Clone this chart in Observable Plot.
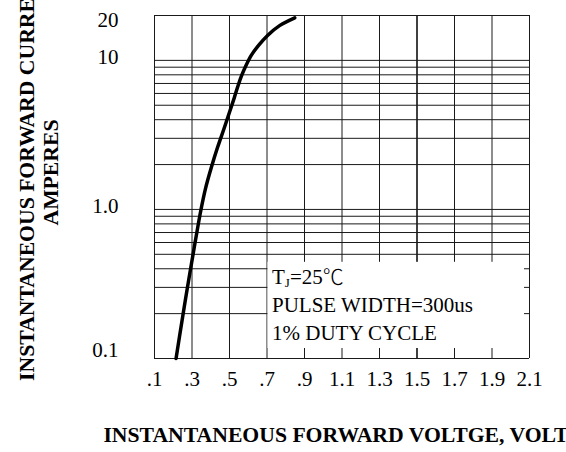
<!DOCTYPE html>
<html>
<head>
<meta charset="utf-8">
<script src="https://cdn.jsdelivr.net/npm/d3@7"></script>
<script src="https://cdn.jsdelivr.net/npm/@observablehq/plot@0.6"></script>
<style>
  html, body { margin: 0; padding: 0; background: #fff; overflow: hidden; }
  svg { display: block; }
</style>
</head>
<body>
<div id="chart"></div>
<script>
// Curve: instantaneous forward voltage (V) vs instantaneous forward current (A)
const voltage = [0.215, 0.247, 0.273, 0.300, 0.323, 0.347, 0.372, 0.403, 0.436, 0.471, 0.503, 0.526, 0.546, 0.565, 0.588, 0.616, 0.655, 0.703, 0.767, 0.848];
const current = [0.100, 0.180, 0.286, 0.454, 0.669, 0.984, 1.38,  1.91,  2.60,  3.49,  4.61,  5.64,  6.79,  7.92,  9.24,  10.8,  12.6,  14.7,  17.1,  19.3];

const xTicks = [0.1, 0.3, 0.5, 0.7, 0.9, 1.1, 1.3, 1.5, 1.7, 1.9, 2.1];
const xTickLabels = [".1", ".3", ".5", ".7", ".9", "1.1", "1.3", "1.5", "1.7", "1.9", "2.1"];
const yTicks = [0.1, 1, 10, 20];
const yTickLabels = ["0.1", "1.0", "10", "20"];
const yGrid = [0.1, 0.2, 0.3, 0.4, 0.5, 0.6, 0.7, 0.8, 0.9, 1, 2, 3, 4, 5, 6, 7, 8, 9, 10, 20];
const boldGridX = [1.5];

const legendLines = ["TJ=25℃", "PULSE WIDTH=300us", "1% DUTY CYCLE"];
const legendBox = [{x1: 0.7, x2: 2.1, y1: 0.1, y2: 0.5}];

const xTitle = "INSTANTANEOUS FORWARD VOLTGE, VOLTS";
const yTitle = "INSTANTANEOUS FORWARD CURRENT,\nAMPERES";

const curve = voltage.map((v, i) => ({v, a: current[i]}));
const fmtX = d => xTickLabels[xTicks.indexOf(d)];
const fmtY = d => yTickLabels[yTicks.indexOf(d)];

const serif = "'Liberation Serif','Times New Roman',Times,serif";
const yAxisOpts = {tickSize: 0, tickPadding: 36, tickFormat: fmtY, fontSize: 21, label: null};
const legendOpts = {x: legendBox[0].x1, frameAnchor: "bottom", textAnchor: "start", lineAnchor: "middle", dx: 5, fontSize: 21};

const chart = Plot.plot({
  width: 566,
  height: 452,
  marginTop: 15,
  marginBottom: 94,
  marginLeft: 154,
  marginRight: 37,
  style: {fontFamily: serif, fontSize: "21px", background: "#fff", color: "#000"},
  x: {domain: [0.1, 2.1], label: null},
  y: {type: "log", domain: [0.1, 20], label: null},
  marks: [
    Plot.ruleX(xTicks.filter(d => !boldGridX.includes(d)), {stroke: "#1a1a1a", strokeWidth: 1}),
    Plot.ruleX(boldGridX, {stroke: "#000", strokeWidth: 1.5}),
    Plot.ruleY(yGrid, {stroke: "#1a1a1a", strokeWidth: 1}),
    Plot.rect(legendBox, {x1: "x1", x2: "x2", y1: "y1", y2: "y2", fill: "#fff",
      insetTop: 8, insetBottom: 10, insetRight: 5, insetLeft: 1}),
    Plot.line(curve, {x: "v", y: "a", stroke: "#000", strokeWidth: 3.5, curve: "catmull-rom"}),
    Plot.axisX({ticks: xTicks, tickSize: 0, tickPadding: 13, tickFormat: fmtX, fontSize: 21, label: null}),
    Plot.axisY({...yAxisOpts, ticks: [20], dy: 5}),
    Plot.axisY({...yAxisOpts, ticks: [10, 1], dy: -3}),
    Plot.axisY({...yAxisOpts, ticks: [0.1], dy: -8}),
    Plot.text([legendLines[0]], {...legendOpts, dy: -81}),
    Plot.text([legendLines[1]], {...legendOpts, dy: -53}),
    Plot.text([legendLines[2]], {...legendOpts, dy: -25}),
    Plot.text([xTitle], {frameAnchor: "bottom", dy: 77, lineAnchor: "middle", textAnchor: "middle",
      fontWeight: "bold", fontSize: 21.7}),
    Plot.text([yTitle], {frameAnchor: "left", dx: -116, dy: -14.5, rotate: -90, lineAnchor: "middle",
      textAnchor: "middle", lineHeight: 1.12, fontWeight: "bold", fontSize: 21.7})
  ]
});

document.getElementById("chart").appendChild(chart);

// subscript J and the ℃ sign in "TJ=25℃"
const t = d3.select(chart).selectAll("text").filter(function () { return this.textContent === legendLines[0]; });
if (!t.empty()) {
  t.text(null);
  t.append("tspan").text("T");
  t.append("tspan").attr("font-size", 13).attr("dy", 3).text("J");
  t.append("tspan").attr("dy", -3).text("=25");
  t.append("tspan").attr("font-family", "'Noto Sans CJK SC','Noto Sans CJK JP',serif").attr("font-weight", 300).text("℃");
}
</script>
</body>
</html>
